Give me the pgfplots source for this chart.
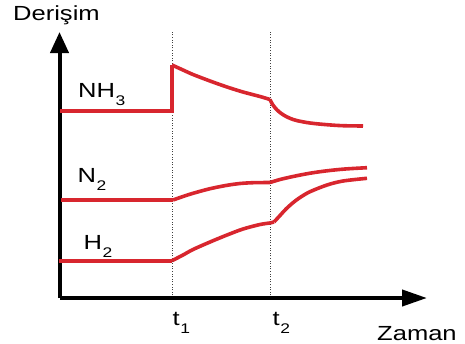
\documentclass[border=0pt]{standalone}
\usepackage{pgfplots}
\pgfplotsset{compat=1.18}
\usetikzlibrary{arrows.meta}
\usepackage{fontspec}
\setmainfont[FakeStretch=1.25]{Liberation Sans}
\definecolor{cred}{RGB}{216,38,46}
\newcommand\sub[1]{\kern0.5bp\raisebox{-8bp}{\fontsize{14}{14}\selectfont #1}}
\begin{document}
\fontsize{20.5}{24}\selectfont
\begin{tikzpicture}
\begin{axis}[
  x=1bp, y=1bp,
  xmin=59.5, xmax=427, ymin=0, ymax=266,
  axis lines=left,
  x axis line style={line width=4bp, -{Triangle[width=16bp,length=25bp]}},
  y axis line style={line width=4bp, -{Triangle[width=18bp,length=21bp]}},
  xtick={172,270}, xticklabels={}, ytick=\empty,
  major tick length=0,
  xmajorgrids,
  grid style={black!75, line width=0.8bp, dash pattern=on 1bp off 1.6bp},
  clip=false,
  cycle list={{cred, line width=3.6bp, line join=round, line cap=butt, no marks}},
]
% NH3
\addplot+[cred, line width=3.6bp, no marks] coordinates {(60,187)(172,187)(172,233)};
\addplot+[cred, line width=3.6bp, no marks, smooth, tension=0.5] coordinates {(172,233)(183,228)(193,223.5)(210,217)(227,211)(243,206)(260,201.5)(270,198.5)};
\addplot+[cred, line width=3.6bp, no marks, smooth, tension=0.55] coordinates {(270,198.5)(272,194.5)(275,190.3)(279,186.3)(284,182.7)(290,179.7)(297,177.4)(310,175)(327,173.3)(343,172.3)(363,172)};
% N2
\addplot+[cred, line width=3.6bp, no marks] coordinates {(61,98)(173,98)};
\addplot+[cred, line width=3.6bp, no marks, smooth, tension=0.5] coordinates {(173,98)(183,101.5)(193,104.7)(210,109.3)(227,112.7)(240,114.5)(253,115.3)(270,115.5)};
\addplot+[cred, line width=3.6bp, no marks, smooth, tension=0.5] coordinates {(270,115.5)(280,118.5)(293,121.5)(310,124.8)(327,127.2)(345,129)(367,130.3)};
% H2
\addplot+[cred, line width=3.6bp, no marks] coordinates {(59,37.3)(172,37.3)};
\addplot+[cred, line width=3.6bp, no marks, smooth, tension=0.5] coordinates {(172,37.3)(183,43)(193,48.5)(210,56)(227,63)(243,69)(260,73.5)(270,75)};
\addplot+[cred, line width=3.6bp, no marks] coordinates {(270,75)(274,76)};
\addplot+[cred, line width=3.6bp, no marks, smooth, tension=0.5] coordinates {(274,76)(280,82.5)(286,89)(293,95.3)(300,100.5)(310,106.3)(327,113)(343,117)(367,119.7)};
\node[anchor=base west, inner sep=0] at (axis cs:13,278) {Derişim};
\node[anchor=base west, inner sep=0] at (axis cs:78,201) {NH\sub{3}};
\node[anchor=base west, inner sep=0] at (axis cs:77.5,116) {N\sub{2}};
\node[anchor=base west, inner sep=0] at (axis cs:83.5,49) {H\sub{2}};
\node[anchor=base west, inner sep=0] at (axis cs:172.5,-27) {t\sub{1}};
\node[anchor=base west, inner sep=0] at (axis cs:272.5,-27) {t\sub{2}};
\node[anchor=base west, inner sep=0] at (axis cs:377,-42) {Zaman};
\coordinate (bl) at (axis cs:0,-45);
\coordinate (tr) at (axis cs:465,298);
\end{axis}
\pgfresetboundingbox
\path (bl) rectangle (tr);
\end{tikzpicture}
\end{document}
